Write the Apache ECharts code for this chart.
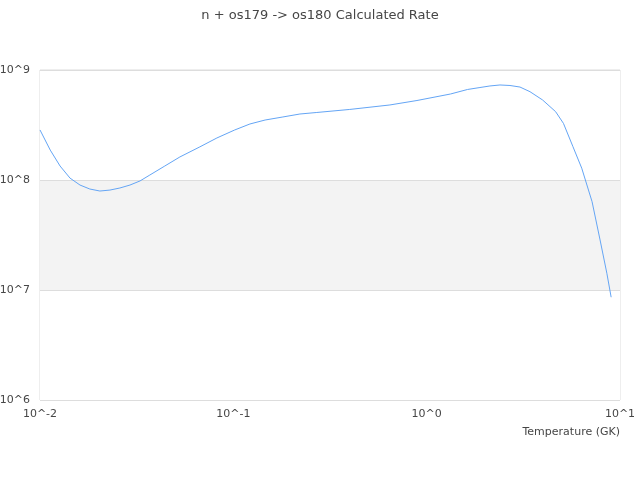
<!DOCTYPE html>
<html>
<head>
<meta charset="utf-8">
<script src="https://cdn.jsdelivr.net/npm/echarts@6/dist/echarts.min.js"></script>
<style>html,body{margin:0;padding:0;background:#fff}#c{width:640px;height:480px}</style>
</head>
<body>
<div id="c"></div>
<script>
var titleText = 'n + os179 -> os180 Calculated Rate';
var xAxisName = 'Temperature (GK)';
var temperatures = [0.01,0.0113,0.0127,0.0143,0.0161,0.0181,0.0204,0.023,0.0259,0.0292,0.0329,0.037,0.0442,0.0529,0.0671,0.0822,0.1017,0.1218,0.146,0.1804,0.2209,0.2703,0.4,0.6454,0.891,1.328,1.626,1.886,2.125,2.394,2.697,3.038,3.423,3.977,4.645,5.1,5.71,6.34,7.17,7.887,8.55,9.0];
var rates = [2.85e8,1.87e8,1.34e8,1.04e8,9.0e7,8.28e7,7.94e7,8.1e7,8.46e7,9.0e7,9.8e7,1.11e8,1.34e8,1.62e8,2.0e8,2.41e8,2.85e8,3.23e8,3.51e8,3.74e8,3.98e8,4.11e8,4.38e8,4.81e8,5.28e8,6.05e8,6.65e8,6.93e8,7.16e8,7.31e8,7.23e8,7.0e8,6.35e8,5.34e8,4.18e8,3.27e8,2.01e8,1.28e8,6.35e7,2.85e7,1.42e7,8.6e6];

var seriesData = temperatures.map(function(t, i){ return [t, rates[i]]; });
function powLabel(v){ return '10^' + Math.round(Math.log10(v)); }

var chart = echarts.init(document.getElementById('c'), null, {renderer:'canvas'});
chart.setOption({
  animation: false,
  backgroundColor: '#fff',
  title: {
    text: titleText, left: 'center', top: 4,
    textStyle: {fontFamily: 'DejaVu Sans', fontSize: 13, fontWeight: 'normal', color: '#464646'}
  },
  grid: {left: 40, right: 20, top: 70, bottom: 80, show: true, borderColor: '#dddddd', borderWidth: 1, containLabel: false, outerBoundsMode: 'none'},
  xAxis: {
    type: 'log', min: 0.01, max: 10, logBase: 10,
    name: xAxisName, nameLocation: 'end', nameGap: 0,
    nameTextStyle: {fontFamily: 'DejaVu Sans', fontSize: 11, color: '#464646', align: 'right', verticalAlign: 'top', padding: [27, 0, 0, 0]},
    axisLine: {show: false}, axisTick: {show: false},
    splitLine: {show: false},
    axisLabel: {formatter: powLabel, fontFamily: 'DejaVu Sans', fontSize: 11, color: '#464646', margin: 9}
  },
  yAxis: {
    type: 'log', min: 1e6, max: 1e9, logBase: 10,
    axisLine: {show: false}, axisTick: {show: false},
    splitLine: {show: true, lineStyle: {color: '#dddddd'}},
    splitArea: {show: true, areaStyle: {color: ['#f3f3f3', 'rgba(255,255,255,1)']}},
    axisLabel: {formatter: powLabel, fontFamily: 'DejaVu Sans', fontSize: 11, color: '#464646', margin: 10}
  },
  series: [{
    type: 'line', data: seriesData, showSymbol: false, symbol: 'none',
    lineStyle: {color: '#64a5f5', width: 1}, itemStyle: {color: '#64a5f5'}
  }]
});
</script>
</body>
</html>
